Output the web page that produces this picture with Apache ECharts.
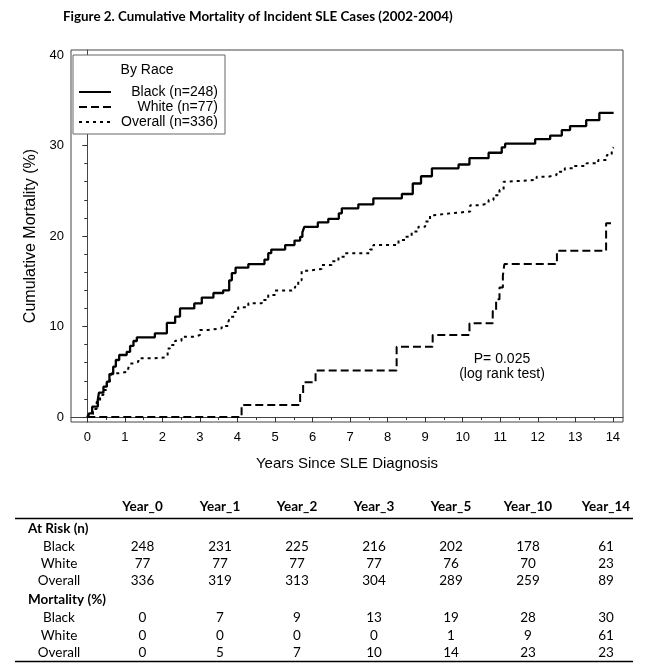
<!DOCTYPE html>
<html><head><meta charset="utf-8">
<script src="https://cdn.jsdelivr.net/npm/echarts@6/dist/echarts.min.js"></script>
<style>html,body{margin:0;padding:0;background:#fff}#c{width:646px;height:669px}</style>
</head><body><div id="c"></div>
<script>
// ---------- data ----------
const titleText = 'Figure 2. Cumulative Mortality of Incident SLE Cases (2002-2004)';
const seriesNames = ['Black (n=248)', 'White (n=77)', 'Overall (n=336)'];
// [years, cumulative mortality %] at each step
const blackSteps = [[0,0],[0.05,0.4],[0.13,1.14],[0.28,1.88],[0.31,2.69],[0.43,3.35],[0.52,3.9],[0.59,4.75],[0.69,5.56],[0.76,6.3],[0.85,6.85],[1.05,7.2],[1.14,7.85],[1.23,8.4],[1.32,8.8],[1.80,9.25],[2.12,10.4],[2.34,11.1],[2.47,12.0],[2.85,12.55],[3.05,13.2],[3.36,13.7],[3.62,14.0],[3.78,15.1],[3.85,15.9],[3.95,16.5],[4.29,16.9],[4.72,17.4],[4.82,18.1],[4.90,18.5],[5.27,19.0],[5.52,19.5],[5.67,19.9],[5.73,20.4],[5.78,21.0],[6.14,21.5],[6.42,21.9],[6.70,22.5],[6.78,23.06],[7.22,23.5],[7.62,24.16],[8.38,24.64],[8.67,25.8],[8.89,26.6],[9.18,27.48],[9.89,27.9],[10.18,28.6],[10.69,29.2],[11.04,29.8],[11.13,30.2],[11.93,30.7],[12.33,31.1],[12.64,31.7],[12.86,32.15],[13.29,32.8],[13.64,33.6],[14.02,33.6]];
const whiteSteps = [[0,0],[4.11,1.33],[5.67,2.6],[5.75,3.83],[6.08,5.15],[8.24,7.77],[9.20,9.06],[10.18,10.35],[10.80,11.7],[10.89,13.0],[10.98,14.3],[11.07,15.6],[11.11,16.9],[12.51,18.38],[13.82,21.4],[14.02,21.4]];
const overallSteps = [[0,0],[0.05,0.3],[0.15,0.9],[0.25,1.7],[0.34,2.44],[0.43,2.98],[0.52,3.72],[0.60,4.46],[0.65,4.83],[0.83,5.0],[1.09,5.37],[1.14,5.92],[1.23,6.1],[1.36,6.48],[1.72,6.59],[2.07,6.74],[2.14,7.58],[2.20,7.95],[2.34,8.44],[2.51,8.88],[2.87,9.06],[3.00,9.61],[3.22,9.8],[3.58,10.06],[3.76,10.53],[3.80,11.09],[3.92,11.6],[4.02,12.12],[4.29,12.57],[4.65,12.94],[4.82,13.49],[5.00,13.97],[5.45,14.1],[5.53,14.4],[5.62,15.1],[5.71,16.17],[5.89,16.35],[6.24,16.8],[6.51,17.2],[6.69,17.72],[6.87,18.09],[7.53,18.5],[7.62,19.0],[8.29,19.56],[8.47,19.93],[8.64,20.5],[8.82,21.03],[9.00,21.6],[9.13,22.3],[9.22,22.5],[9.66,22.7],[10.20,23.4],[10.47,23.6],[10.69,23.97],[10.82,24.5],[10.98,25.08],[11.09,26.0],[11.18,26.2],[11.97,26.55],[12.28,26.74],[12.50,27.1],[12.72,27.48],[12.95,27.74],[13.30,28.03],[13.61,28.4],[13.84,28.95],[13.97,29.6],[14.02,29.8]];
const xTickValues = [0,1,2,3,4,5,6,7,8,9,10,11,12,13,14];
const xMinorValues = [0.5,1.5,2.5,3.5,4.5,5.5,6.5,7.5,8.5,9.5,10.5,11.5,12.5,13.5];
const yTickValues = [0,10,20,30,40];
const yMinorValues = [2,4,6,8,12,14,16,18,22,24,26,28,32,34,36,38];
const pText = 'P= 0.025\n(log rank test)';
// table
const tableHeaders = ['Year_0','Year_1','Year_2','Year_3','Year_5','Year_10','Year_14'];
const groupAtRisk = 'At Risk (n)';
const groupMortality = 'Mortality (%)';
const rowLabels = ['Black','White','Overall'];
const atRiskBlack = [248,231,225,216,202,178,61];
const atRiskWhite = [77,77,77,77,76,70,23];
const atRiskOverall = [336,319,313,304,289,259,89];
const mortBlack = [0,7,9,13,19,28,30];
const mortWhite = [0,0,0,0,1,9,61];
const mortOverall = [0,5,7,10,14,23,23];

// ---------- layout ----------
const SANS = 'Liberation Sans';
const CAL = 'Lato';
const chart = echarts.init(document.getElementById('c'));

const colX = [142.5,220,297,374,451,528,606];
const g = [];
function txt(x, y, text, font, align) {
  g.push({type:'text', x:x, y:y, z:100, style:{text:text, font:font, fill:'#000', align:align||'center', verticalAlign:'middle'}});
}
function rule(y) {
  g.push({type:'line', z:100, shape:{x1:15, y1:y, x2:633, y2:y}, style:{stroke:'#000', lineWidth:1.6}});
}
tableHeaders.forEach((h,i)=>txt(colX[i], 507, h, 'bold 13.5px ' + CAL));
rule(518.5);
txt(28, 529, groupAtRisk, 'bold 13.5px ' + CAL, 'left');
[atRiskBlack, atRiskWhite, atRiskOverall].forEach((row, r) => {
  const y = [547, 564, 581][r];
  txt(59, y, rowLabels[r], '13.5px ' + CAL);
  row.forEach((v,i)=>txt(colX[i], y, String(v), '13.5px ' + CAL));
});
txt(28, 600, groupMortality, 'bold 13.5px ' + CAL, 'left');
[mortBlack, mortWhite, mortOverall].forEach((row, r) => {
  const y = [618, 636, 653][r];
  txt(59, y, rowLabels[r], '13.5px ' + CAL);
  row.forEach((v,i)=>txt(colX[i], y, String(v), '13.5px ' + CAL));
});
rule(661.5);
// legend title & p-value
txt(147, 70, 'By Race', '14px ' + SANS);
g.push({type:'text', x:502, y:367, z:100, style:{text:pText, font:'14px ' + SANS, fill:'#000', align:'center', verticalAlign:'middle', lineHeight:15}});

const axisCommon = {
  type:'value', splitLine:{show:false}
};
const option = {
  animation:false,
  backgroundColor:'#fff',
  title:{text:titleText, left:58, top:5, textStyle:{fontFamily:CAL, fontWeight:'bold', fontSize:13.4, color:'#000'}},
  grid:{left:71, top:50, right:23, bottom:247, show:true, borderColor:'#444', borderWidth:1},
  legend:{
    orient:'vertical', left:73, top:55, padding:[30,7,5,5], itemGap:1, itemWidth:32, itemHeight:15,
    borderColor:'#666', borderWidth:1, backgroundColor:'#fff',
    itemStyle:{opacity:0, borderWidth:0},
    data:seriesNames,
    formatter: n => '{r|' + n + '}',
    textStyle:{fontFamily:SANS, fontSize:14, color:'#000', rich:{r:{width:102, align:'right', fontFamily:SANS, fontSize:14, lineHeight:15, color:'#000'}}}
  },
  xAxis:[
    Object.assign({}, axisCommon, {
      min:-0.434, max:14.27, position:'bottom',
      name:'Years Since SLE Diagnosis', nameLocation:'middle', nameGap:34,
      nameTextStyle:{fontFamily:SANS, fontSize:15, color:'#000'},
      axisLine:{show:true, lineStyle:{color:'#444', width:1}},
      axisTick:{show:true, customValues:xTickValues, length:5, lineStyle:{color:'#333'}},
      axisLabel:{customValues:xTickValues, margin:9, fontFamily:SANS, fontSize:13, color:'#000'}
    }),
    Object.assign({}, axisCommon, {
      min:-0.434, max:14.27, position:'bottom',
      axisLine:{show:false},
      axisTick:{show:true, customValues:xMinorValues, length:3, lineStyle:{color:'#333'}},
      axisLabel:{show:false}
    })
  ],
  yAxis:[
    Object.assign({}, axisCommon, {
      min:-0.55, max:40.55, position:'left',
      name:'Cumulative Mortality (%)', nameLocation:'middle', nameGap:32, nameRotate:90,
      nameTextStyle:{fontFamily:SANS, fontSize:16, color:'#000'},
      axisLine:{show:true, lineStyle:{color:'#444', width:1}},
      axisTick:{show:true, customValues:yTickValues, length:5, lineStyle:{color:'#333'}},
      axisLabel:{customValues:yTickValues, margin:7, fontFamily:SANS, fontSize:13, color:'#000'}
    }),
    Object.assign({}, axisCommon, {
      min:-0.55, max:40.55, position:'left',
      axisLine:{show:false},
      axisTick:{show:true, customValues:yMinorValues, length:3, lineStyle:{color:'#333'}},
      axisLabel:{show:false}
    })
  ],
  series:[
    {name:seriesNames[0], type:'line', step:'end', data:blackSteps, symbol:'none', showSymbol:false,
     lineStyle:{color:'#000', width:2.3, type:'solid'}, itemStyle:{color:'#000'}},
    {name:seriesNames[1], type:'line', step:'end', data:whiteSteps, symbol:'none', showSymbol:false,
     lineStyle:{color:'#000', width:2, type:[8,4]}, itemStyle:{color:'#000'}},
    {name:seriesNames[2], type:'line', step:'end', data:overallSteps, symbol:'none', showSymbol:false,
     lineStyle:{color:'#000', width:2, type:[3,4]}, itemStyle:{color:'#000'}}
  ],
  graphic:g
};
chart.setOption(option);
</script>
</body></html>
